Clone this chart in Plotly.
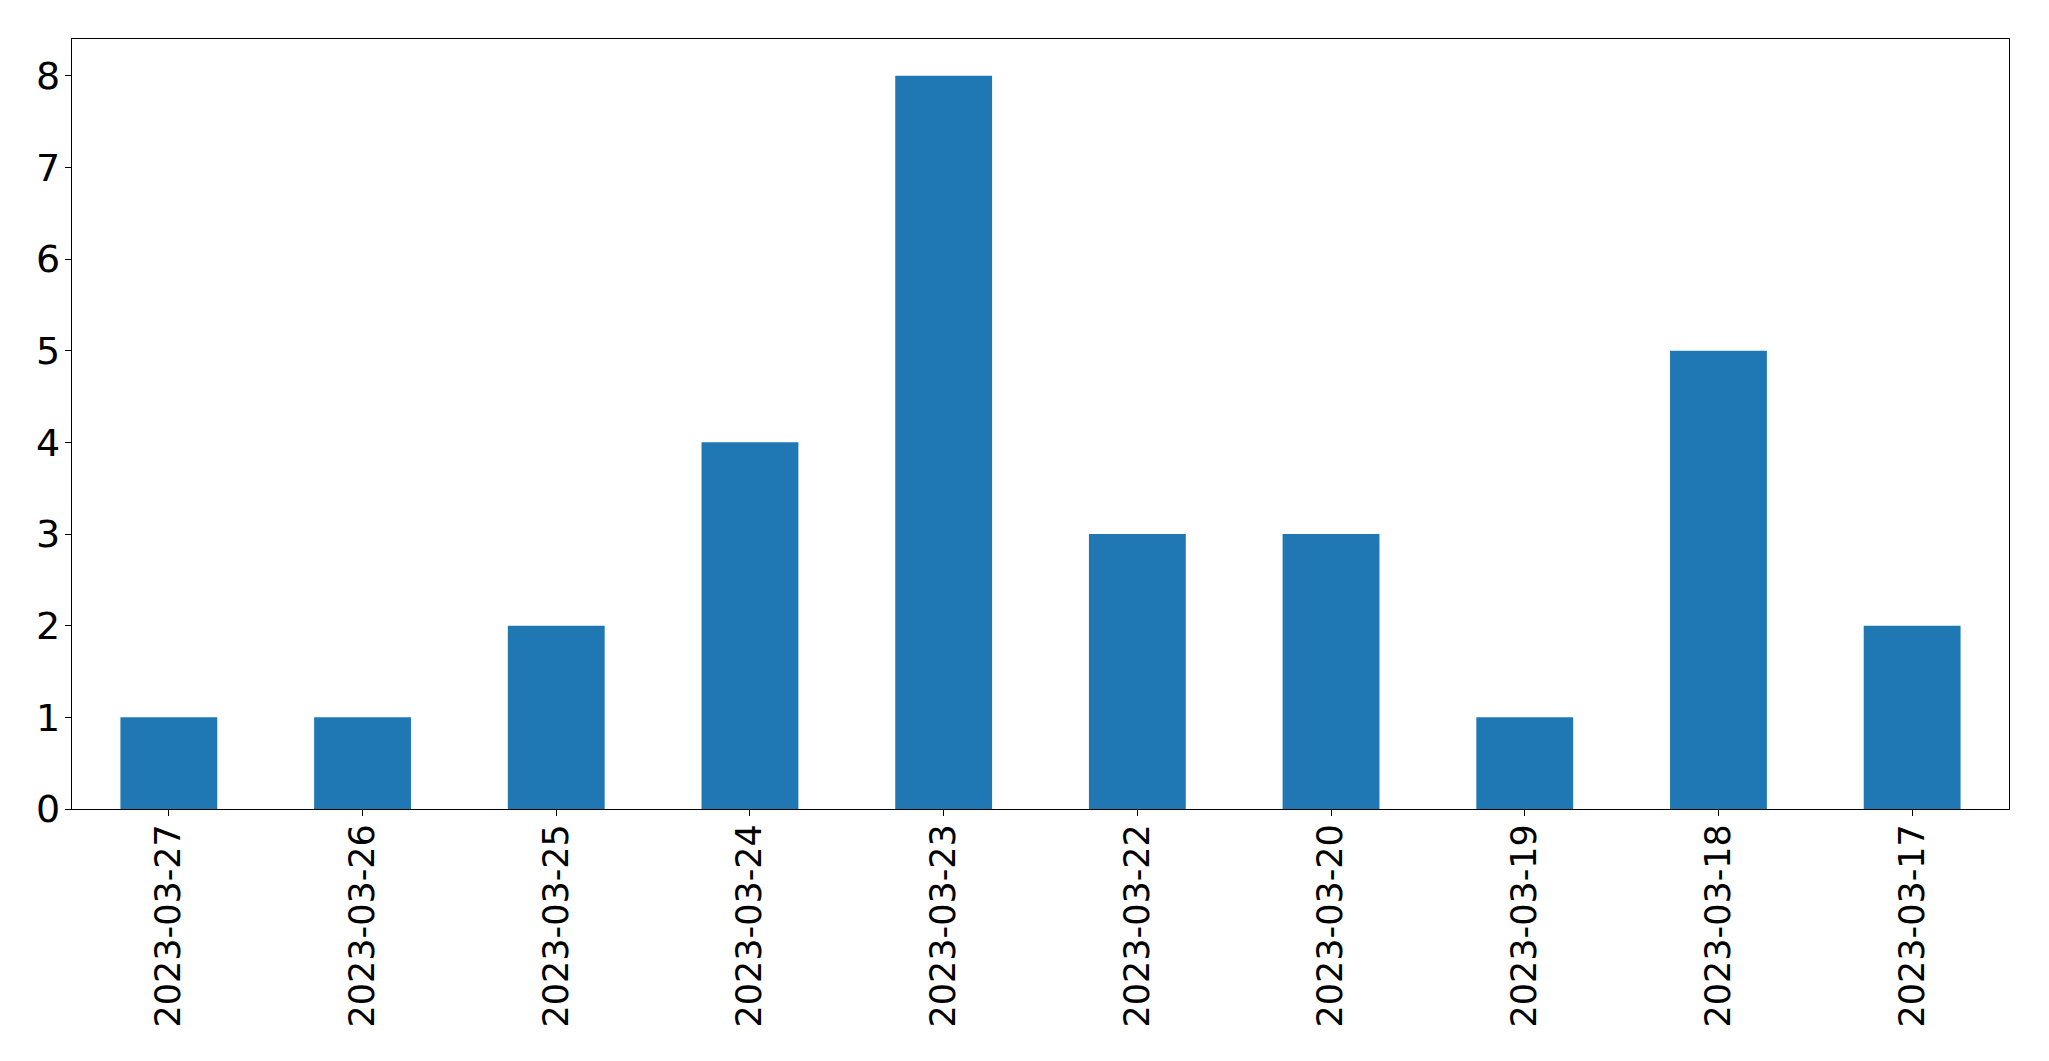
import plotly.graph_objects as go

dates = ["2023-03-27", "2023-03-26", "2023-03-25", "2023-03-24", "2023-03-23",
         "2023-03-22", "2023-03-20", "2023-03-19", "2023-03-18", "2023-03-17"]
counts = [1, 1, 2, 4, 8, 3, 3, 1, 5, 2]
y_ticks = [0, 1, 2, 3, 4, 5, 6, 7, 8]

fig = go.Figure(go.Bar(x=dates, y=counts, marker_color="#1f77b4", width=0.5,
                       marker_line_width=0))

axis_common = dict(showline=True, linecolor="black", linewidth=1.3, mirror=True,
                   ticks="outside", ticklen=6, tickwidth=1.3, tickcolor="black",
                   showgrid=False, zeroline=False)

fig.update_layout(
    width=2041, height=1053,
    margin=dict(l=64, r=40, t=31, b=252),
    paper_bgcolor="white", plot_bgcolor="white",
    showlegend=False,
    xaxis=dict(type="category", range=[-0.5, 9.5], tickangle=-90,
               tickfont=dict(family="DejaVu Sans", size=35, color="black"),
               ticklabelstandoff=-6,
               **axis_common),
    yaxis=dict(range=[0, 8.4], tickvals=y_ticks,
               tickfont=dict(family="DejaVu Sans", size=38, color="black"),
               ticklabelstandoff=-3,
               **axis_common),
)

fig.write_html("out.html")
